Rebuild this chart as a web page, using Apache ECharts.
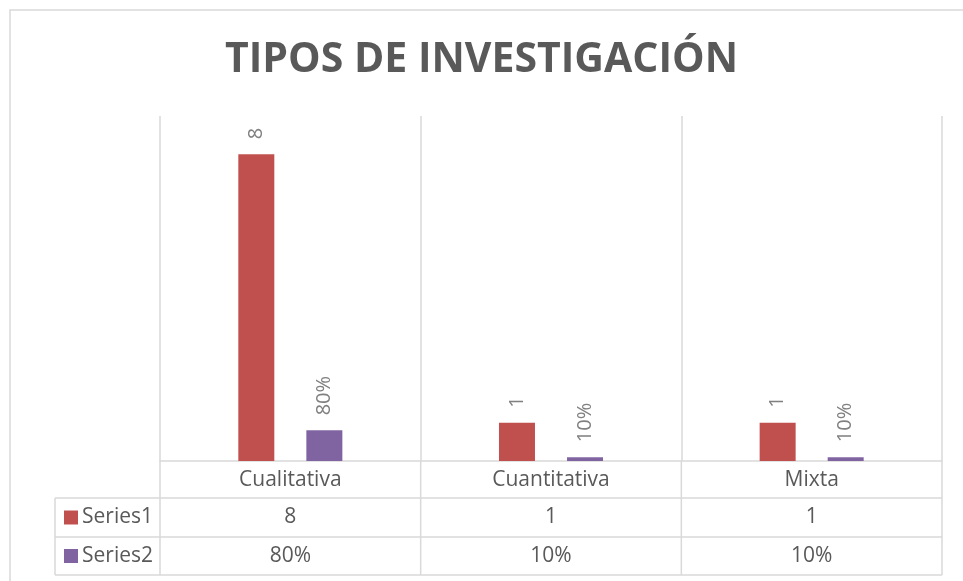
<!DOCTYPE html>
<html>
<head>
<meta charset="utf-8">
<script src="https://cdn.jsdelivr.net/npm/echarts@6/dist/echarts.min.js"></script>
<style>
  html, body { margin: 0; padding: 0; background: #fff; }
  #main { width: 963px; height: 581px; }
</style>
</head>
<body>
<div id="main"></div>
<script>
// datos
var categories = ['Cualitativa', 'Cuantitativa', 'Mixta'];
var seriesNames = ['Series1', 'Series2'];
var series1 = [8, 1, 1];
var series2 = [0.8, 0.1, 0.1];
var titleText = 'TIPOS DE INVESTIGACIÓN';

var colors = ['#C0504D', '#8064A2'];
var lineColor = '#d9d9d9';
var textColor = '#595959';
var fontName = 'Open Sans';

function pct(v) {
    return Math.round(v * 100) + '%';
}

function DrawChart() {
    var chart = echarts.init(document.getElementById('main'));

    // layout of the plot + data table
    var gLeft = 160, gRight = 942, gTop = 116, gBase = 461;
    var rows = [461, 498, 537, 575];
    var keyLeft = 55;
    var colW = (gRight - gLeft) / categories.length;

    var graphic = [];
    // outer frame (top + left edge visible)
    graphic.push({
        type: 'rect', silent: true,
        shape: { x: 10, y: 10, width: 1000, height: 700 },
        style: { fill: 'none', stroke: lineColor, lineWidth: 1.5 }
    });
    // horizontal table lines
    for (var r = 1; r < rows.length; r++) {
        graphic.push({
            type: 'line', silent: true,
            shape: { x1: keyLeft, y1: rows[r], x2: gRight, y2: rows[r] },
            style: { stroke: lineColor, lineWidth: 1.5 }
        });
    }
    // vertical table lines
    for (var c = 0; c <= categories.length; c++) {
        var x = gLeft + c * colW;
        graphic.push({
            type: 'line', silent: true,
            shape: { x1: x, y1: rows[0], x2: x, y2: rows[3] },
            style: { stroke: lineColor, lineWidth: 1.5 }
        });
    }
    graphic.push({
        type: 'line', silent: true,
        shape: { x1: keyLeft, y1: rows[1], x2: keyLeft, y2: rows[3] },
        style: { stroke: lineColor, lineWidth: 1.5 }
    });

    // rows of the table: legend key + values
    var tableVals = [series1.map(String), series2.map(pct)];
    for (var s = 0; s < seriesNames.length; s++) {
        var cy = (rows[s + 1] + rows[s + 2]) / 2;
        graphic.push({
            type: 'rect', silent: true,
            shape: { x: 64, y: cy - 7, width: 14, height: 14 },
            style: { fill: colors[s] }
        });
        graphic.push({
            type: 'text', silent: true,
            x: 82, y: cy,
            style: {
                text: seriesNames[s], fill: textColor,
                font: '21px "' + fontName + '"', textVerticalAlign: 'middle'
            }
        });
        for (var k = 0; k < categories.length; k++) {
            graphic.push({
                type: 'text', silent: true,
                x: gLeft + (k + 0.5) * colW, y: cy,
                style: {
                    text: tableVals[s][k], fill: textColor,
                    font: '21px "' + fontName + '"', textAlign: 'center', textVerticalAlign: 'middle'
                }
            });
        }
    }

    var labelStyle = {
        show: true,
        position: 'top',
        rotate: 90,
        align: 'left',
        verticalAlign: 'middle',
        distance: 15,
        color: '#808080',
        fontFamily: fontName,
        fontSize: 20
    };

    var option = {
        backgroundColor: '#fff',
        animation: false,
        title: {
            text: titleText,
            left: 'center',
            top: 35,
            textStyle: {
                color: textColor,
                fontFamily: fontName,
                fontWeight: 'bold',
                fontSize: 41
            }
        },
        grid: {
            left: gLeft,
            right: 963 - gRight,
            top: gTop,
            bottom: 581 - gBase
        },
        xAxis: {
            type: 'category',
            data: categories,
            axisLine: { lineStyle: { color: lineColor, width: 1.5 } },
            axisTick: { show: false },
            splitLine: { show: true, lineStyle: { color: lineColor, width: 1.5 } },
            axisLabel: {
                color: textColor,
                fontFamily: fontName,
                fontSize: 21,
                margin: 9
            }
        },
        yAxis: {
            type: 'value',
            min: 0,
            max: 9,
            show: false,
            splitLine: { show: false }
        },
        series: [
            {
                name: seriesNames[0],
                type: 'bar',
                data: series1,
                barWidth: 36,
                barGap: '89%',
                itemStyle: { color: colors[0] },
                label: labelStyle
            },
            {
                name: seriesNames[1],
                type: 'bar',
                data: series2,
                barWidth: 36,
                barGap: '89%',
                itemStyle: { color: colors[1] },
                label: Object.assign({}, labelStyle, {
                    formatter: function (p) { return pct(p.value); }
                })
            }
        ],
        graphic: graphic
    };

    chart.setOption(option);
}

DrawChart();
</script>
</body>
</html>
